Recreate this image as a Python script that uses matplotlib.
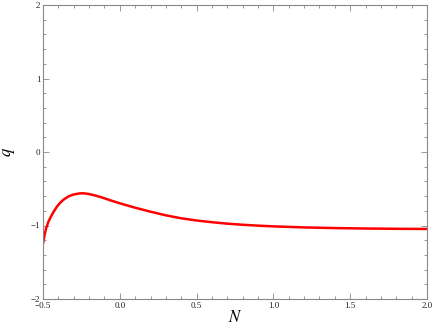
import matplotlib
matplotlib.use("Agg")
import matplotlib.pyplot as plt
from matplotlib.ticker import MultipleLocator

N = [-0.5, -0.49, -0.48, -0.465, -0.45, -0.43, -0.41, -0.39, -0.37, -0.35, -0.33, -0.30,
     -0.27, -0.25, -0.22, -0.19, -0.16, -0.13, -0.10, -0.05, 0.0, 0.05, 0.10, 0.15,
     0.20, 0.30, 0.40, 0.50, 0.60, 0.70, 0.80, 0.90, 1.0, 1.2, 1.4, 1.6, 1.8, 2.0]
q = [-1.25, -1.13, -1.04, -0.95, -0.885, -0.81, -0.745, -0.695, -0.655, -0.625, -0.600, -0.578,
     -0.566, -0.562, -0.565, -0.577, -0.592, -0.610, -0.630, -0.665, -0.698, -0.728, -0.758, -0.785,
     -0.812, -0.862, -0.902, -0.932, -0.955, -0.975, -0.990, -1.002, -1.012, -1.026, -1.035, -1.041, -1.045, -1.047]

xlim = (-0.5, 2.0)
ylim = (-2, 2)

plt.rcParams['font.family'] = ['Liberation Serif', 'DejaVu Serif']
plt.rcParams['mathtext.fontset'] = 'stix'

fig = plt.figure(figsize=(4.36, 3.27), dpi=100)
ax = fig.add_axes([43/436, 28/327, 384/436, 294/327])
ax.plot(N, q, color='#ff0000', lw=1.8, solid_capstyle='butt')
ax.set_xlim(*xlim)
ax.set_ylim(*ylim)

ax.xaxis.set_major_locator(MultipleLocator(0.5))
ax.xaxis.set_minor_locator(MultipleLocator(0.1))
ax.yaxis.set_major_locator(MultipleLocator(1))
ax.yaxis.set_minor_locator(MultipleLocator(0.2))
ax.yaxis.set_major_formatter(matplotlib.ticker.FuncFormatter(lambda v, p: f"{int(round(v))}".replace('-', '\u2212')))
ax.xaxis.set_major_formatter(matplotlib.ticker.FuncFormatter(lambda v, p: f"{v:.1f}".replace('-', '\u2212')))

for s in ax.spines.values():
    s.set_color('#888888')
    s.set_linewidth(0.8)
ax.tick_params(which='both', direction='in', top=True, right=True, colors='#888888',
               labelcolor='#222222', labelsize=6.5, width=0.6, pad=2)
ax.tick_params(which='major', length=4)
ax.tick_params(which='minor', length=2)

ax.set_xlabel('$N$', fontsize=12, labelpad=0)
ax.set_ylabel('$q$', fontsize=12, labelpad=10)

fig.savefig('out.png', dpi=100)
